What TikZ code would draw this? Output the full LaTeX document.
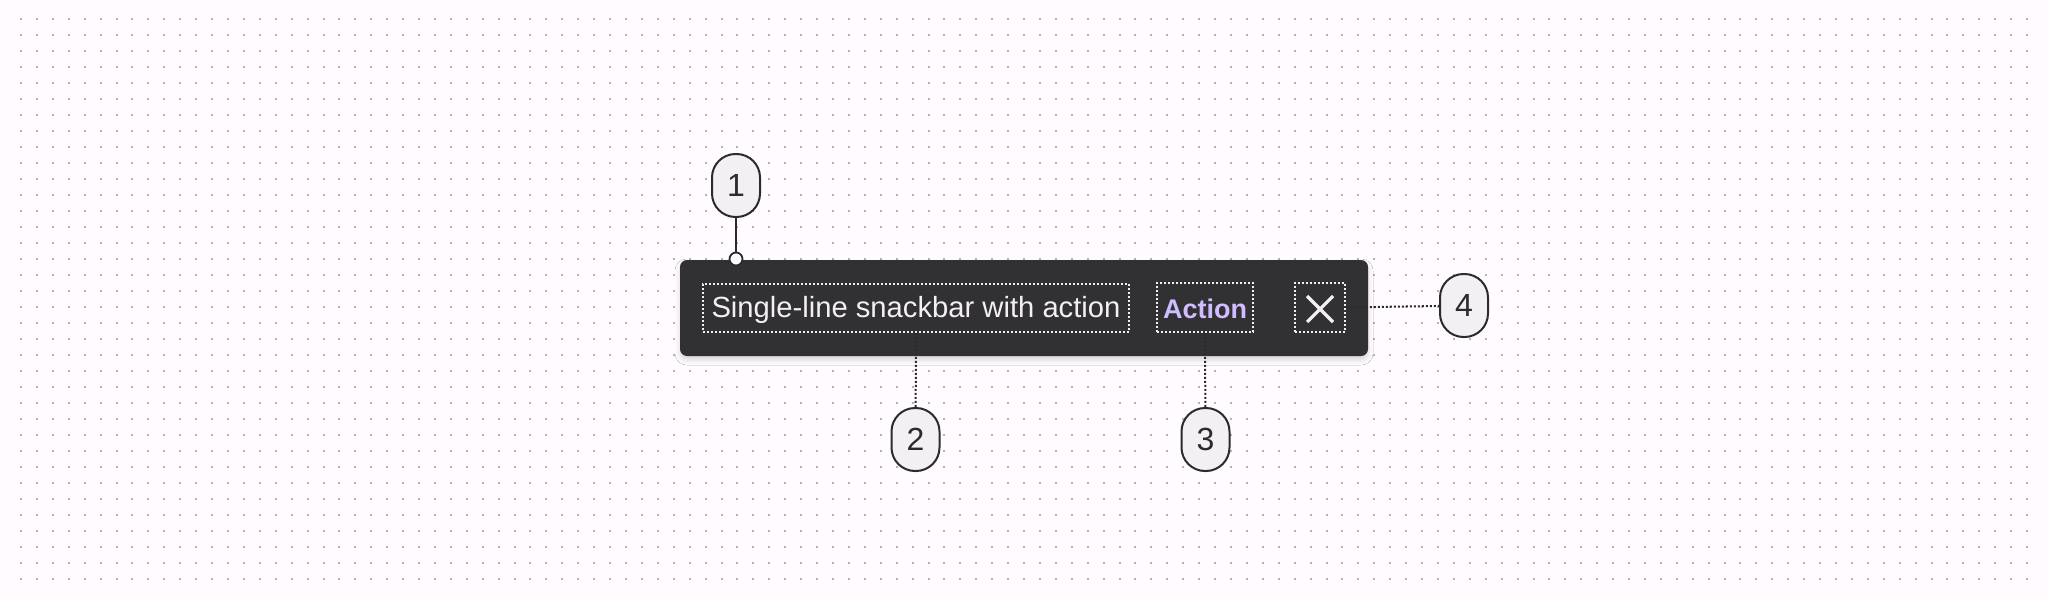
\documentclass[tikz,border=0pt]{standalone}
\usepackage{fontspec}
\setmainfont{Liberation Sans}
\usetikzlibrary{shadows.blur}
\definecolor{bg}{HTML}{FFFBFE}
\definecolor{dotc}{HTML}{B4B0B4}
\definecolor{bar}{HTML}{313033}
\definecolor{bartext}{HTML}{F4EFF4}
\definecolor{actc}{HTML}{D0BCFF}
\definecolor{bubfill}{HTML}{F3F0F4}
\definecolor{ink}{HTML}{2B2A2E}
\tikzset{
  bubble/.style={draw=ink, line width=2pt, fill=bubfill, rounded corners=23.5pt,
    minimum width=48pt, minimum height=63pt, inner sep=0pt,
    font=\fontsize{32}{32}\selectfont, text=ink},
  partbox/.style={draw=bartext, line width=1.6pt, dash pattern=on 2pt off 2pt,
    inner sep=0pt},
  bartxt/.style={anchor=base, inner sep=0pt, font=\fontsize{29.2}{29.2}\selectfont, text=bartext},
  leader/.style={draw=ink, line width=2pt, dash pattern=on 2pt off 2pt},
  solidleader/.style={draw=ink, line width=2pt}
}
\begin{document}
\begin{tikzpicture}[x=1pt,y=-1pt]
\useasboundingbox (0,0) rectangle (2048,600);
\fill[bg] (0,0) rectangle (2048,600);
% dot grid
\foreach \i in {0,...,126}{
  \foreach \j in {0,...,35}{
    \fill[dotc] ({20+\i*15.921},{18+\j*16}) rectangle ++(2,2);
  }
}
% snackbar
\path[fill=bar, rounded corners=7pt, blur shadow={shadow xshift=0pt, shadow yshift=-4pt, shadow blur radius=5pt, shadow opacity=15}]
  (680,260) rectangle (1368,356);
\node[partbox, minimum width=426pt, minimum height=48pt] (txtbox) at (916,308) {};
\node[bartxt] (txt) at (916,317) {Single-line snackbar with action};
\node[partbox, minimum width=96pt, minimum height=49pt] (act) at (1205,307.5) {};
\node[bartxt, text=actc, font=\fontsize{27}{27}\selectfont\bfseries] (acttxt) at (1205,318.5) {Action};
\node[partbox, minimum width=50pt, minimum height=49pt] (cls) at (1320,307.5) {};
\draw[bartext, line width=3.2pt] (1307,296) -- (1333,322) (1307,322) -- (1333,296);
% bubbles
\node[bubble] (b1) at (736,185.5) {1};
\node[bubble] (b2) at (915.5,439.5) {2};
\node[bubble] (b3) at (1205.5,439.5) {3};
\node[bubble] (b4) at (1464,305.5) {4};
% anchor circle
\node[circle, draw=ink, line width=1.8pt, fill=bg, minimum size=13pt, inner sep=0pt] (c1) at (736,259) {};
% leaders
\draw[solidleader] (b1) -- (c1);
\draw[leader] (txtbox.south) -- (b2);
\draw[leader] (act.south) -- (b3);
\draw[leader] (cls.east) -- (b4);
\end{tikzpicture}
\end{document}
